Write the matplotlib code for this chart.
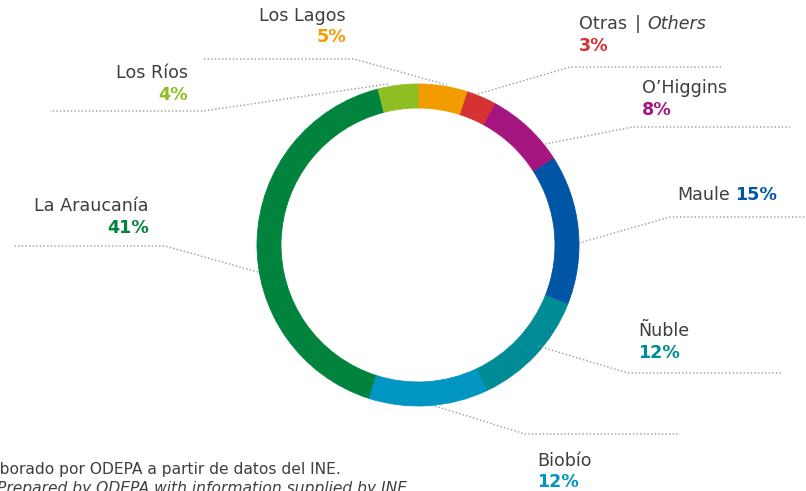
import matplotlib
matplotlib.use("Agg")
import matplotlib.pyplot as plt

# ---- data ----
regions = ["Los Lagos", "Otras", "O\u2019Higgins", "Maule", "\u00d1uble", "Biob\u00edo", "La Araucan\u00eda", "Los R\u00edos"]
shares = [5, 3, 8, 15, 12, 12, 41, 4]
pct_labels = ["5%", "3%", "8%", "15%", "12%", "12%", "41%", "4%"]
colors = ["#F39C00", "#D63235", "#A5157F", "#0055A5", "#008C96", "#0095C2", "#00843D", "#8DBE22"]

W, H = 806, 491
fig = plt.figure(figsize=(W / 100, H / 100), dpi=100)
ax = fig.add_axes([0, 0, 1, 1])

def Y(y):
    return H - y

CX, CY, R, RW = 418, 245, 161, 24
ax.pie(shares, colors=colors, startangle=90, counterclock=False,
       center=(CX, Y(CY)), radius=R,
       wedgeprops=dict(width=RW, linewidth=0.6, edgecolor="none"))
for w, c in zip(ax.patches, colors):
    w.set_edgecolor(c)
ax.set_xlim(0, W)
ax.set_ylim(0, H)
ax.set_aspect("equal")
ax.axis("off")

TXT = "#3f3f3f"
FS = 12.6
LINE = dict(color="#9a9a9a", lw=1.0, linestyle=(0, (1, 1.6)))

# leader lines (layout, pixel coordinates)
leaders = {
    "Los Lagos": [(204, 59), (354, 59), (447, 85)],
    "Otras": [(478, 94), (570, 67), (723, 67)],
    "O\u2019Higgins": [(545, 144), (633, 127), (790, 127)],
    "Maule": [(579, 243), (670, 217), (806, 217)],
    "\u00d1uble": [(538, 346), (628, 373), (782, 373)],
    "Biob\u00edo": [(435, 406), (525, 434), (680, 434)],
    "La Araucan\u00eda": [(258, 272), (165, 246), (14, 246)],
    "Los R\u00edos": [(388, 84), (203, 111), (50, 111)],
}
for pts in leaders.values():
    xs = [p[0] for p in pts]
    ys = [Y(p[1]) for p in pts]
    ax.plot(xs, ys, **LINE)

# label placement (layout): x, y_name, y_pct, alignment
place = {
    "Los Lagos": (346, 16, 37, "right"),
    "Los R\u00edos": (188, 73, 95, "right"),
    "La Araucan\u00eda": (149, 206, 228, "right"),
    "O\u2019Higgins": (642, 88, 110, "left"),
    "\u00d1uble": (638, 331, 353, "left"),
    "Biob\u00edo": (537, 461, 482, "left"),
}

for name, pct, col in zip(regions, pct_labels, colors):
    if name in place:
        x, yn, yp, ha = place[name]
        ax.text(x, Y(yn), name, ha=ha, va="center", fontsize=FS, color=TXT)
        ax.text(x, Y(yp), pct, ha=ha, va="center", fontsize=FS, color=col, fontweight="bold")

fig.canvas.draw()
rend = fig.canvas.get_renderer()

def right_px(t):
    bb = t.get_window_extent(renderer=rend)
    return bb.x1

# Otras | Others
i = regions.index("Otras")
t1 = ax.text(579, Y(24), "Otras", ha="left", va="center", fontsize=FS, color=TXT)
fig.canvas.draw()
x1 = right_px(t1)
t2 = ax.text(x1 + 8, Y(24), "|", ha="left", va="center", fontsize=FS, color=TXT)
fig.canvas.draw()
x2 = right_px(t2)
ax.text(x2 + 6, Y(24), "Others", ha="left", va="center", fontsize=FS, color=TXT, style="italic")
ax.text(579, Y(46), pct_labels[i], ha="left", va="center", fontsize=FS, color=colors[i], fontweight="bold")

# Maule 15%
i = regions.index("Maule")
t3 = ax.text(677, Y(195), "Maule", ha="left", va="center", fontsize=FS, color=TXT)
fig.canvas.draw()
x3 = right_px(t3)
ax.text(x3 + 5, Y(195), pct_labels[i], ha="left", va="center", fontsize=FS, color=colors[i], fontweight="bold")

# footer (partially off-canvas as in reference)
ax.text(341, Y(474), "Elaborado por ODEPA a partir de datos del INE.", ha="right", va="baseline",
        fontsize=11.2, color=TXT)
ax.text(412, Y(493), "Prepared by ODEPA with information supplied by INE.", ha="right", va="baseline",
        fontsize=11.2, color=TXT, style="italic")

fig.savefig("out.png", dpi=100)
